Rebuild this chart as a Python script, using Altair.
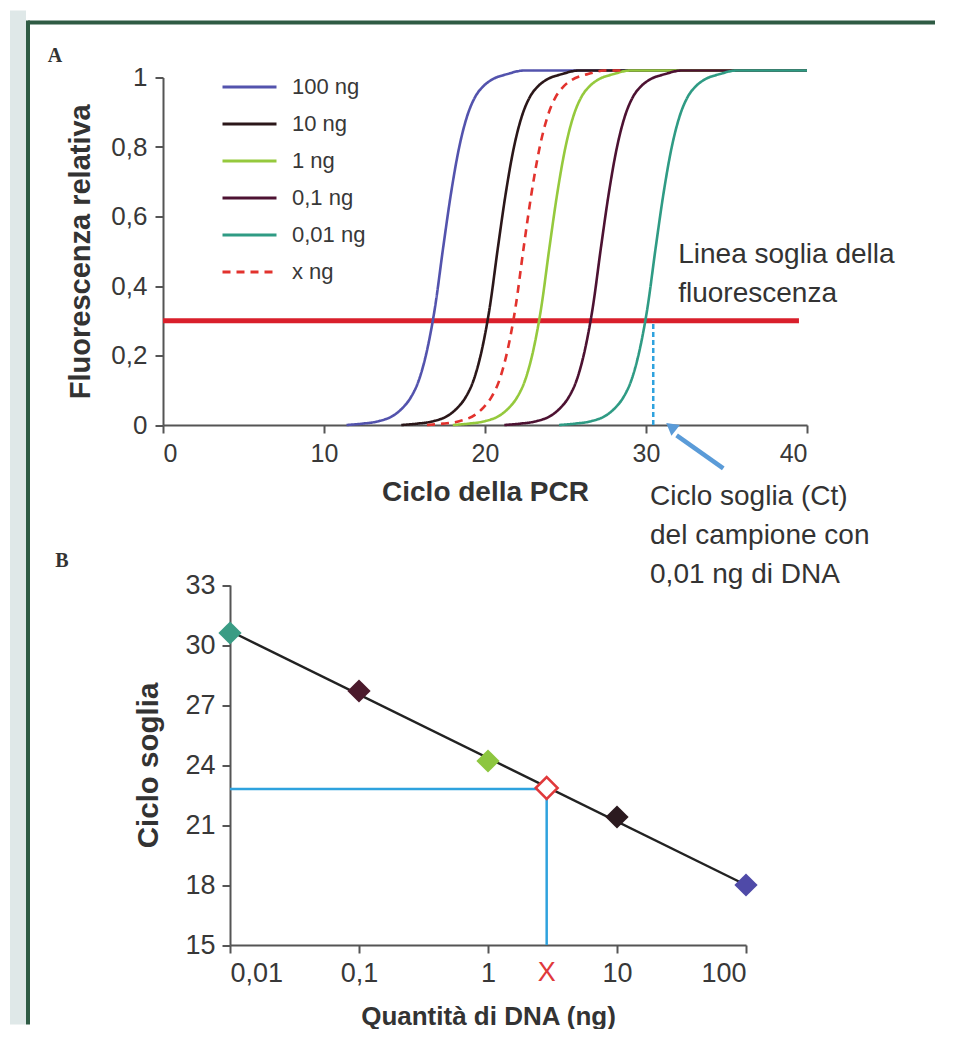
import altair as alt
import pandas as pd

# ---------------- Panel A data ----------------
SERIES = ["100 ng", "10 ng", "1 ng", "0,1 ng", "0,01 ng", "x ng"]
COLORS = ["#5353ad", "#2b1719", "#95c93d", "#4d1232", "#2f9b84", "#e2322d"]
DASHES = [[1, 0], [1, 0], [1, 0], [1, 0], [1, 0], [8, 6]]

CYC_100 = [11.4, 12.4, 13.4, 14.4, 14.9, 15.4, 15.9, 16.4, 16.9, 17.4, 17.9, 18.4, 18.9, 19.4, 19.9, 20.4, 21.4, 22.4, 40]
CYC_10 = [14.8, 15.8, 16.8, 17.8, 18.3, 18.8, 19.3, 19.8, 20.3, 20.8, 21.3, 21.8, 22.3, 22.8, 23.3, 23.8, 24.8, 25.8, 40]
CYC_1 = [18.0, 19.0, 20.0, 21.0, 21.5, 22.0, 22.5, 23.0, 23.5, 24.0, 24.5, 25.0, 25.5, 26.0, 26.5, 27.0, 28.0, 29.0, 40]
CYC_01 = [21.2, 22.2, 23.2, 24.2, 24.7, 25.2, 25.7, 26.2, 26.7, 27.2, 27.7, 28.2, 28.7, 29.2, 29.7, 30.2, 31.2, 32.2, 40]
CYC_001 = [24.6, 25.6, 26.6, 27.6, 28.1, 28.6, 29.1, 29.6, 30.1, 30.6, 31.1, 31.6, 32.1, 32.6, 33.1, 33.6, 34.6, 35.6, 40]
CYC_X = [16.4, 17.4, 18.4, 19.4, 19.9, 20.4, 20.9, 21.4, 21.9, 22.4, 22.9, 23.4, 23.9, 24.4, 24.9, 25.4, 26.4, 27.4, 28.5]
FLUO = [0.0, 0.004, 0.011, 0.03, 0.05, 0.08, 0.13, 0.215, 0.34, 0.51, 0.67, 0.8, 0.89, 0.945, 0.975, 0.993, 1.01, 1.02, 1.02]

THRESH_X = [0, 39.5]
THRESH_Y = 0.3
CT_X = 30.45
ARROW_X = [34.8, 31.9]
ARROW_Y = [-0.125, -0.03]
ARROW_TIP = (31.55, -0.005)

NOTE1 = "Linea soglia della\nfluorescenza"
NOTE1_POS = (32.0, 0.489)
NOTE2 = "Ciclo soglia (Ct)\ndel campione con\n0,01 ng di DNA"
NOTE2_POS = (30.25, -0.207)

# ---------------- Panel B data ----------------
NG = [0.01, 0.1, 1, 10, 100]
CT = [30.6, 27.7, 24.2, 21.4, 18.0]
PT_COLORS = ["#3a9c84", "#4b1a2c", "#8dc63f", "#2b1a1f", "#4f4aa8"]
X_NG = 2.85
X_CT = 22.85
FIT_NG = [0.01, 100]
FIT_CT = [30.7, 18.0]
GUIDE_CT = 22.8

FONT = "Liberation Sans"
AXIS_COL = "#555555"
LAB_COL = "#383838"
FRAME = "#2f5b44"
BLUE = "#2ea2de"

# one shared canvas: panel A occupies the top, panel B the bottom (pixel ranges)
A_W, A_H = 644, 347.5
B_X0, B_X1 = 67, 583
B_Y0, B_Y1 = 507.5, 867.5
VIEW_W, VIEW_H = 644, 867.5

curves = []
for name, cyc in zip(SERIES, [CYC_100, CYC_10, CYC_1, CYC_01, CYC_001, CYC_X]):
    for i, (c, f) in enumerate(zip(cyc, FLUO)):
        curves.append({"serie": name, "ciclo": c, "fluo": f, "ord": i})
df_curves = pd.DataFrame(curves)

xA = alt.X("ciclo:Q", scale=alt.Scale(domain=[0, 40], range=[0, A_W], nice=False),
           axis=alt.Axis(orient="bottom", offset=-(VIEW_H - A_H), values=[0, 10, 20, 30, 40],
                         title="Ciclo della PCR", titleX=A_W / 2, titleY=67, titleBaseline="middle",
                         titleAlign="center", titleFontSize=28, labelFontSize=25, labelPadding=8))
yA = alt.Y("fluo:Q", scale=alt.Scale(domain=[0, 1], range=[A_H, 0], nice=False),
           axis=alt.Axis(orient="left", values=[0, 0.2, 0.4, 0.6, 0.8, 1], title="Fluorescenza relativa",
                         labelExpr="replace(toString(datum.value), '.', ',')",
                         titleX=-83, titleY=A_H / 2, titleAngle=270, titleBaseline="middle",
                         titleAlign="center", titleFontSize=29, labelFontSize=26, labelPadding=8))

leg = alt.Legend(title=None, orient="none", legendX=75, legendY=-2, symbolType="M-2.7,0H2.7",
                 symbolSize=400, symbolStrokeWidth=3, labelFontSize=22, labelFont=FONT,
                 labelColor=LAB_COL, labelOffset=31, rowPadding=14, padding=0)

threshold = alt.Chart(pd.DataFrame({"ciclo": [THRESH_X[0]], "c2": [THRESH_X[1]], "fluo": [THRESH_Y]})).mark_rule(
    color="#d91f2b", strokeWidth=5).encode(x=xA, x2="c2:Q", y=yA)

lines = alt.Chart(df_curves).mark_line(strokeWidth=2.6, interpolate="monotone").encode(
    x=xA, y=yA,
    color=alt.Color("serie:N", scale=alt.Scale(domain=SERIES, range=COLORS), legend=leg),
    strokeDash=alt.StrokeDash("serie:N", scale=alt.Scale(domain=SERIES, range=DASHES), legend=leg),
    order="ord:Q",
)

ct_line = alt.Chart(pd.DataFrame({"ciclo": [CT_X], "fluo": [0.0], "f2": [THRESH_Y]})).mark_rule(
    color=BLUE, strokeWidth=2.5, strokeDash=[5, 3]).encode(x="ciclo:Q", y="fluo:Q", y2="f2:Q")

arrow = alt.Chart(pd.DataFrame({"ciclo": ARROW_X, "fluo": ARROW_Y})).mark_line(
    color="#5a9bd8", strokeWidth=4.5).encode(x="ciclo:Q", y="fluo:Q")
arrow_head = alt.Chart(pd.DataFrame({"ciclo": [ARROW_TIP[0]], "fluo": [ARROW_TIP[1]]})).mark_point(
    shape="triangle-up", filled=True, color="#5a9bd8", size=190, angle=308, opacity=1).encode(
    x="ciclo:Q", y="fluo:Q")

notes = alt.Chart(pd.DataFrame({"ciclo": [NOTE1_POS[0], NOTE2_POS[0]],
                                "fluo": [NOTE1_POS[1], NOTE2_POS[1]],
                                "t": [NOTE1, NOTE2]})).mark_text(
    align="left", baseline="middle", fontSize=28, font=FONT, color="#333333",
    lineBreak="\n", lineHeight=39).encode(x="ciclo:Q", y="fluo:Q", text="t:N")

letters = alt.Chart(pd.DataFrame({"t": ["A"]})).mark_text(
    font="Liberation Serif", fontWeight="bold", fontSize=20, color="#333333",
    align="center", baseline="middle").encode(x=alt.value(-108), y=alt.value(-22), text="t:N")
letterB = alt.Chart(pd.DataFrame({"t": ["B"]})).mark_text(
    font="Liberation Serif", fontWeight="bold", fontSize=20, color="#333333",
    align="center", baseline="middle").encode(x=alt.value(-101), y=alt.value(483.5), text="t:N")

page_edge = alt.Chart(pd.DataFrame({"a": [0]})).mark_rect(color="#dfe8e8").encode(
    x=alt.value(-153), x2=alt.value(-137), y=alt.value(-67), y2=alt.value(947))
frame_top = alt.Chart(pd.DataFrame({"a": [0]})).mark_rule(color=FRAME, strokeWidth=4).encode(
    x=alt.value(-135), x2=alt.value(772), y=alt.value(-55))
frame_left = alt.Chart(pd.DataFrame({"a": [0]})).mark_rule(color=FRAME, strokeWidth=4).encode(
    x=alt.value(-135), y=alt.value(-57), y2=alt.value(947))

layerA = alt.layer(page_edge, frame_top, frame_left, letters, letterB, threshold, lines, ct_line, arrow,
                   arrow_head, notes)

# ---------------- Panel B ----------------
xB = alt.X("ng:Q", scale=alt.Scale(type="log", domain=[0.01, 100], range=[B_X0, B_X1], nice=False),
           axis=alt.Axis(orient="bottom", values=NG, title="Quantità di DNA (ng)",
                         labelExpr="replace(toString(datum.value), '.', ',')",
                         titleX=(B_X0 + B_X1) / 2, titleY=71, titleBaseline="middle", titleAlign="center",
                         titleFontSize=26, labelFontSize=27, labelPadding=7))
yB = alt.Y("ct:Q", scale=alt.Scale(domain=[15, 33], range=[B_Y1, B_Y0], nice=False),
           axis=alt.Axis(orient="left", offset=-B_X0, values=[15, 18, 21, 24, 27, 30, 33],
                         title="Ciclo soglia", titleX=-82, titleY=(B_Y0 + B_Y1) / 2, titleAngle=270,
                         titleBaseline="middle", titleAlign="center", titleFontSize=29.5,
                         labelFontSize=27, labelPadding=7))

df_pts = pd.DataFrame({"ng": NG, "ct": CT, "col": PT_COLORS})

guide_h = alt.Chart(pd.DataFrame({"ng": [0.01], "n2": [X_NG], "ct": [GUIDE_CT]})).mark_rule(
    color=BLUE, strokeWidth=2.5).encode(x=xB, x2="n2:Q", y=yB)
guide_v = alt.Chart(pd.DataFrame({"ng": [X_NG], "ct": [15], "c2": [GUIDE_CT]})).mark_rule(
    color=BLUE, strokeWidth=2.5).encode(x=xB, y=yB, y2="c2:Q")
fit = alt.Chart(pd.DataFrame({"ng": FIT_NG, "ct": FIT_CT})).mark_line(
    color="#222222", strokeWidth=2.4).encode(x=xB, y=yB)
pts = alt.Chart(df_pts).mark_point(shape="diamond", filled=True, size=540, opacity=1).encode(
    x=xB, y=yB, color=alt.Color("col:N", scale=None, legend=None))
xpt = alt.Chart(pd.DataFrame({"ng": [X_NG], "ct": [X_CT]})).mark_point(
    shape="diamond", filled=False, size=480, color="#e0393b", fill="white", fillOpacity=1,
    strokeWidth=2.5, opacity=1).encode(x=xB, y=yB)
xlab = alt.Chart(pd.DataFrame({"ng": [X_NG], "ct": [15], "t": ["X"]})).mark_text(
    fontSize=27, font=FONT, color="#e0393b", baseline="top", dy=15).encode(x=xB, y=yB, text="t:N")

layerB = alt.layer(guide_h, guide_v, fit, pts, xpt, xlab)

chart = alt.layer(layerA, layerB).resolve_scale(
    x="independent", y="independent", color="independent", strokeDash="independent"
).properties(
    width=VIEW_W, height=VIEW_H, padding={"left": 2, "top": 2.5, "right": 0, "bottom": 0}
).configure(background="white", font=FONT).configure_view(stroke=None).configure_axis(
    grid=False, domainColor=AXIS_COL, domainWidth=2, tickColor=AXIS_COL, tickWidth=2, tickSize=8,
    labelColor=LAB_COL, labelFont=FONT, titleFont=FONT, titleColor="#333333", titleFontWeight="bold"
)

chart.save("out.html", embed_options={"renderer": "svg", "actions": False})
